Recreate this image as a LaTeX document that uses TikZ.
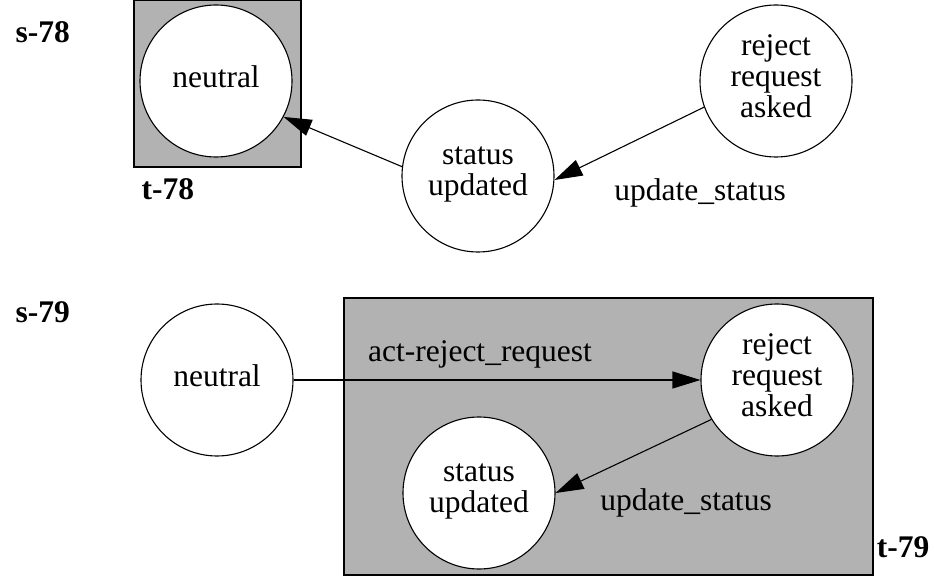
\documentclass[tikz,border=0pt]{standalone}
\usepackage{fontspec}
\setmainfont{Liberation Serif}
\usetikzlibrary{arrows.meta}
\colorlet{boxgray}{black!30}
\newcommand{\bigfont}{\fontsize{31.5}{31}\selectfont}
\tikzset{
  state/.style={circle,draw,fill=white,minimum size=152pt,inner sep=0pt,align=center,line width=1.1pt,font=\bigfont,
    execute at begin node={\rule{0pt}{22pt}},execute at end node={\rule[-9pt]{0pt}{9pt}}},
  trans/.style={-{Triangle[length=28pt,width=17pt]},line width=1.1pt},
  elabel/.style={anchor=base,font=\bigfont},
  tag/.style={anchor=base west,font=\bigfont\bfseries},
  grp/.style={draw,fill=boxgray,line width=1.3pt}
}

\begin{document}
\begin{tikzpicture}[x=1pt,y=-1pt]
  \useasboundingbox (0,0) rectangle (935,577);
  % s-78
  \node[tag] (s78) at (12,43) {s-78};
  \draw[grp] (134,0.7) rectangle (301,167);
  \node[tag] (t78) at (138,200) {t-78};
  \node[state] (neu78) at (216,81) {neutral};
  \node[state] (stat78) at (478,176) {status\\updated};
  \node[state] (rej78) at (776,81) {reject\\request\\asked};
  \draw[trans] (rej78.200) -- (stat78.-3);
  \draw[trans] (stat78.173) -- (neu78.-28);
  \node[elabel] (upd78) at (700,201) {update\_status};
  % s-79
  \node[tag] (s79) at (12,323) {s-79};
  \draw[grp] (344,298) rectangle (873,575);
  \node[tag,anchor=base east] (t79) at (933,557) {t-79};
  \node[state] (neu79) at (217,380) {neutral};
  \node[state] (rej79) at (777,380) {reject\\request\\asked};
  \node[state] (stat79) at (479,493) {status\\updated};
  \draw[trans] (neu79) -- (rej79);
  \node[elabel] (act79) at (480,362) {act-reject\_request};
  \draw[trans] (rej79.211) -- (stat79.0);
  \node[elabel] (upd79) at (686,510) {update\_status};
\end{tikzpicture}
\end{document}
